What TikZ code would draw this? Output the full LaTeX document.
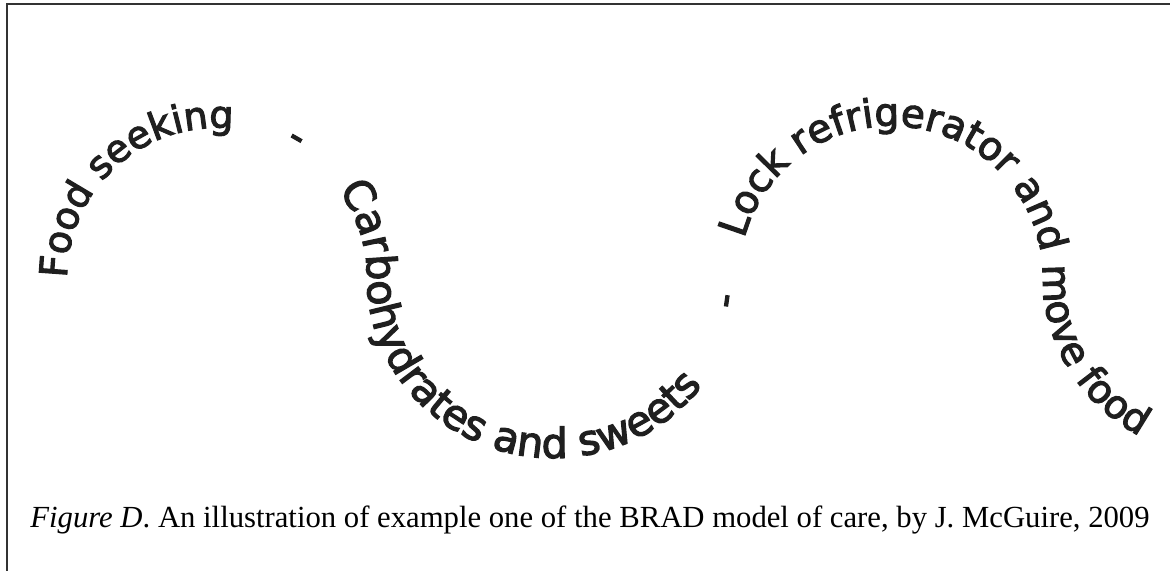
\documentclass[tikz,border=0pt]{standalone}
\usepackage{fontspec}
\usepackage{tikz}
\usetikzlibrary{decorations.text}
\setmainfont{Liberation Serif}
\newfontfamily\wordfont[FakeBold=3]{DejaVu Sans}
\definecolor{ink}{gray}{0.12}

\begin{document}
\begin{tikzpicture}[x=0.5pt,y=0.5pt]
            \tikzstyle{phrase}=[decorate,decoration={text along path,text align=left,text color=ink}]
            \tikzstyle{frame}=[line width=1pt,draw=black!80]
            \useasboundingbox (0,0) rectangle (1170,571);

            % frame: left and top edges only
            \draw[frame] (7,0) -- (7,566.5) -- (1170,566.5);

            % first hump
            \path[phrase,decoration={text={|\fontsize{19}{20}\wordfont|Food seeking}}]
                (67,293) arc[start angle=180,end angle=30,radius=150];
            \path[phrase,decoration={text={|\fontsize{19.5}{20}\wordfont|-}}]
                (285.1,426.7) arc[start angle=63,end angle=20,radius=150];

            % valley
            \path[phrase,decoration={text={|\fontsize{20.7}{21}\wordfont|Carbohydrates and sweets}}]
                (338.4,381.2) arc[start angle=36,end angle=0,radius=150]
                arc[start angle=180,end angle=360,x radius=186,y radius=180];
            \path[phrase,decoration={text={|\fontsize{19.5}{20}\wordfont|-}}]
                (736.2,261.7) arc[start angle=350,end angle=360,x radius=186,y radius=180]
                arc[start angle=180,end angle=150,radius=152];

            % second hump and tail
            \path[phrase,decoration={text={|\fontsize{19.5}{20}\wordfont|Lock refrigerator and move food}}]
                (744.2,332.3) arc[start angle=165,end angle=0,radius=152]
                arc[start angle=180,end angle=300,x radius=186,y radius=180];

            \node[anchor=base west,inner sep=0pt] (caption) at (30,43)
                {\fontsize{15.35}{18}\selectfont\textit{Figure D}. An illustration of example one of the BRAD model of care, by J. McGuire, 2009};
\end{tikzpicture}
\end{document}
